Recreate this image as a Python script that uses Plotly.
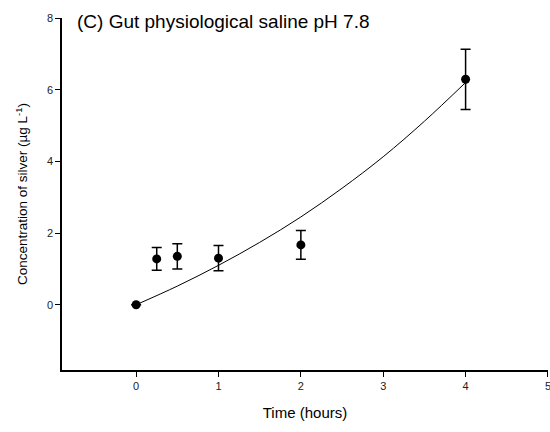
import plotly.graph_objects as go

# Measured silver concentration (mean ± error) over time
time_h = [0, 0.25, 0.5, 1, 2, 4]
silver_conc = [0.0, 1.28, 1.35, 1.30, 1.67, 6.29]
silver_err = [0.0, 0.32, 0.35, 0.35, 0.40, 0.84]

# Fitted curve sampled along the time axis
fit_time = [0, 0.5, 1, 1.5, 2, 2.5, 3, 3.5, 4]
fit_conc = [0.0, 0.52, 1.10, 1.74, 2.45, 3.25, 4.13, 5.12, 6.20]

x_ticks = [0, 1, 2, 3, 4, 5]
y_ticks = [0, 2, 4, 6, 8]

FONT = "Liberation Sans, Arial, sans-serif"

fig = go.Figure()

fig.add_trace(go.Scatter(
    x=fit_time, y=fit_conc, mode="lines",
    line=dict(color="black", width=1, shape="spline"),
    hoverinfo="skip", showlegend=False,
))

fig.add_trace(go.Scatter(
    x=time_h, y=silver_conc, mode="markers",
    marker=dict(color="black", size=9, symbol="circle"),
    error_y=dict(type="data", array=silver_err, visible=True,
                 color="black", thickness=1.5, width=5),
    showlegend=False,
))

fig.add_annotation(
    text="(C) Gut physiological saline pH 7.8",
    xref="paper", yref="y", x=0.027, y=8.0, yshift=-3,
    xanchor="left", yanchor="middle", showarrow=False,
    font=dict(family=FONT, size=19, color="black"),
)

fig.update_layout(
    width=550, height=432,
    margin=dict(l=62, r=2, t=18, b=62, autoexpand=False),
    paper_bgcolor="white", plot_bgcolor="white",
    font=dict(family=FONT, color="black"),
)

fig.update_xaxes(
    range=[-0.9, 5.0005], tickvals=x_ticks, ticklabeloverflow="allow",
    automargin=False,
    ticks="outside", ticklen=5, tickwidth=1.2, tickcolor="black",
    showline=True, linecolor="black", linewidth=1.5,
    showgrid=False, zeroline=False,
    tickfont=dict(size=11, color="#222"),
    title=dict(text="Time (hours)", font=dict(size=15), standoff=17),
)

fig.update_yaxes(
    range=[-1.82, 8], tickvals=y_ticks, automargin=False,
    ticks="outside", ticklen=5, tickwidth=1.2, tickcolor="black",
    showline=True, linecolor="black", linewidth=1.5,
    showgrid=False, zeroline=False,
    tickfont=dict(size=11, color="#222"),
    title=dict(text="Concentration of silver (µg L<sup>-1</sup>)", font=dict(size=13.5), standoff=16),
)

fig.write_html("out.html")
